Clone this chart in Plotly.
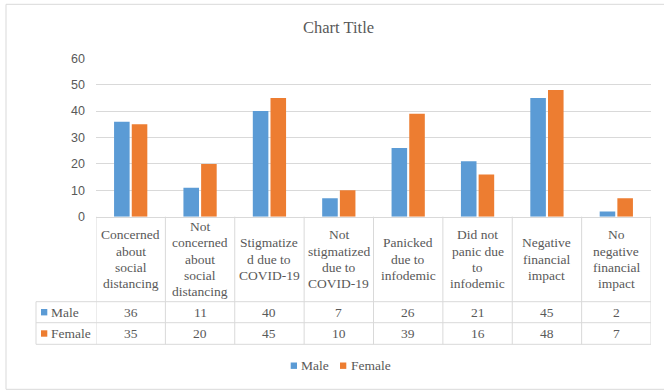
import plotly.graph_objects as go

# Category labels, wrapped as they appear in the data-table header cells
categories = [
    ["Concerned", "about", "social", "distancing"],
    ["Not", "concerned", "about", "social", "distancing"],
    ["Stigmatize", "d due to", "COVID-19"],
    ["Not", "stigmatized", "due to", "COVID-19"],
    ["Panicked", "due to", "infodemic"],
    ["Did not", "panic due", "to", "infodemic"],
    ["Negative", "financial", "impact"],
    ["No", "negative", "financial", "impact"],
]
male = [36, 11, 40, 7, 26, 21, 45, 2]
female = [35, 20, 45, 10, 39, 16, 48, 7]
series_names = ["Male", "Female"]
y_ticks = [0, 10, 20, 30, 40, 50, 60]

W, H = 664, 392
BLUE, ORANGE = "#5B9BD5", "#ED7D31"
TEXT = "#595959"
LINE = "#D9D9D9"
SERIF = "'Liberation Serif', Tinos, 'Times New Roman', 'DejaVu Serif', serif"
SANS = "'Liberation Sans', Arial, sans-serif"


def px(x):
    return x / W


def py(y):
    return 1 - y / H


# pixel layout of the plot area and data table
PLOT_L, PLOT_R = 96, 651
PLOT_TOP, PLOT_BOT = 58.3, 216.7
ROW1_TOP, ROW2_TOP, TABLE_BOT = 301.7, 322.7, 344.3
TABLE_L = 36

xs = list(range(len(categories)))

fig = go.Figure()
fig.add_trace(go.Bar(x=xs, y=male, name=series_names[0], marker=dict(color=BLUE, line=dict(width=0))))
fig.add_trace(go.Bar(x=xs, y=female, name=series_names[1], marker=dict(color=ORANGE, line=dict(width=0))))

shapes = []
annotations = []

# outer chart border
shapes.append(dict(type="rect", xref="paper", yref="paper",
                   x0=px(6), x1=px(670), y0=py(389.3), y1=py(4.3),
                   line=dict(color=LINE, width=1)))

# data table: vertical column boundaries
for i in range(len(categories) + 1):
    shapes.append(dict(type="line", xref="x", yref="paper",
                       x0=i - 0.5, x1=i - 0.5, y0=py(PLOT_BOT), y1=py(TABLE_BOT),
                       line=dict(color=LINE, width=1)))
# series label column left edge
shapes.append(dict(type="line", xref="paper", yref="paper",
                   x0=px(TABLE_L), x1=px(TABLE_L), y0=py(ROW1_TOP), y1=py(TABLE_BOT),
                   line=dict(color=LINE, width=1)))
# horizontal row lines
for yy in (ROW1_TOP, ROW2_TOP, TABLE_BOT):
    shapes.append(dict(type="line", xref="paper", yref="paper",
                       x0=px(TABLE_L), x1=px(PLOT_R), y0=py(yy), y1=py(yy),
                       line=dict(color=LINE, width=1)))

# header cells: wrapped category names
header_mid = (PLOT_BOT + ROW1_TOP) / 2
spacing = 16.3
for i, lines in enumerate(categories):
    n = len(lines)
    for k, ln in enumerate(lines):
        yy = header_mid + (k - (n - 1) / 2) * spacing
        annotations.append(dict(x=i, xref="x", y=py(yy), yref="paper",
                                text=ln, showarrow=False, xanchor="center", yanchor="middle",
                                font=dict(family=SERIF, size=13.5, color=TEXT)))

# value rows
rows = [(male, BLUE, series_names[0], ROW1_TOP, ROW2_TOP),
        (female, ORANGE, series_names[1], ROW2_TOP, TABLE_BOT)]
for vals, col, name, top, bot in rows:
    mid = (top + bot) / 2
    for i, v in enumerate(vals):
        annotations.append(dict(x=i, xref="x", y=py(mid), yref="paper",
                                text=str(v), showarrow=False, xanchor="center", yanchor="middle",
                                font=dict(family=SERIF, size=13.5, color=TEXT)))
    shapes.append(dict(type="rect", xref="paper", yref="paper",
                       x0=px(41), x1=px(47.3), y0=py(mid + 3.2), y1=py(mid - 3.2),
                       fillcolor=col, line=dict(width=0)))
    annotations.append(dict(x=px(48.5), xref="paper", y=py(mid), yref="paper",
                            text=name, showarrow=False, xanchor="left", yanchor="middle",
                            font=dict(family=SERIF, size=13.5, color=TEXT)))

# legend below the table
LEG_Y = 365.7
for col, name, kx in ((BLUE, series_names[0], 290.7), (ORANGE, series_names[1], 340)):
    shapes.append(dict(type="rect", xref="paper", yref="paper",
                       x0=px(kx), x1=px(kx + 6.3), y0=py(LEG_Y + 3.2), y1=py(LEG_Y - 3.2),
                       fillcolor=col, line=dict(width=0)))
    annotations.append(dict(x=px(kx + 8.5), xref="paper", y=py(LEG_Y), yref="paper",
                            text=name, showarrow=False, xanchor="left", yanchor="middle",
                            font=dict(family=SERIF, size=13.5, color=TEXT)))

# chart title
annotations.append(dict(x=px(338), xref="paper", y=py(28), yref="paper",
                        text="Chart Title", showarrow=False, xanchor="center", yanchor="middle",
                        font=dict(family=SERIF, size=16.5, color=TEXT)))

fig.update_layout(
    width=W, height=H,
    margin=dict(l=0, r=0, t=0, b=0, autoexpand=False),
    paper_bgcolor="white", plot_bgcolor="white",
    barmode="group", bargap=0.49, bargroupgap=0.12,
    showlegend=False,
    xaxis=dict(domain=[px(PLOT_L), px(PLOT_R)], range=[-0.5, len(categories) - 0.5],
               showticklabels=False, showgrid=False, zeroline=False, automargin=False,
               showline=True, linecolor=LINE, linewidth=1, ticks="", fixedrange=True),
    yaxis=dict(domain=[py(PLOT_BOT), py(PLOT_TOP)], range=[0, 60], automargin=False,
               tickvals=y_ticks, showgrid=True, gridcolor=LINE, gridwidth=1,
               zeroline=False, showline=False, ticks="", ticklabelstandoff=10,
               tickfont=dict(family=SANS, size=12.5, color=TEXT), fixedrange=True),
    shapes=shapes,
    annotations=annotations,
    hovermode=False,
)

fig.write_html(
    "out.html",
    config={"displayModeBar": False},
    post_script="document.body.style.margin='0';document.body.style.overflow='hidden';",
)
